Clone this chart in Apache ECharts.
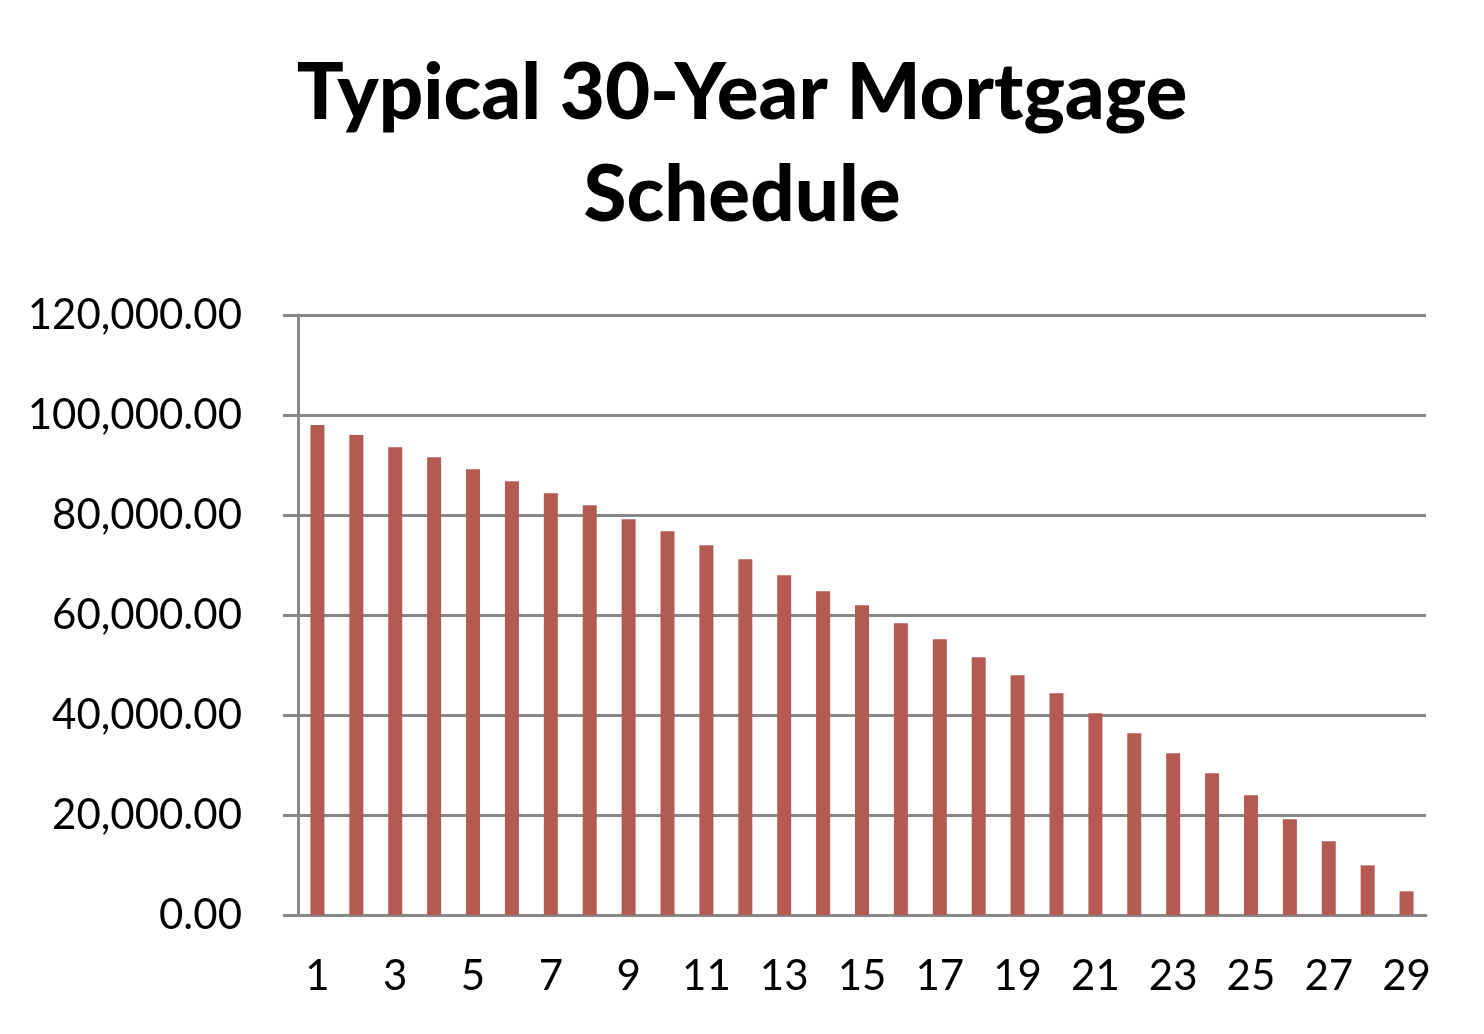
<!DOCTYPE html>
<html>
<head>
<meta charset="utf-8">
<title>Typical 30-Year Mortgage Schedule</title>
<script src="https://cdn.jsdelivr.net/npm/echarts@6/dist/echarts.min.js"></script>
<style>
  html, body { margin: 0; padding: 0; background: #fff; }
  #chart { width: 1484px; height: 1034px; }
</style>
</head>
<body>
<div id="chart"></div>
<script>
// years of the schedule
const years = [];
for (let i = 1; i <= 29; i++) years.push(String(i));

// remaining balance
const balance = [
  98000, 96000, 93530, 91530, 89130, 86730, 84330, 81930, 79130, 76730,
  73930, 71130, 67930, 64730, 61930, 58330, 55130, 51530, 47930, 44330,
  40330, 36330, 32330, 28330, 23930, 19130, 14730, 9930, 4730
];

const yMin = 0;
const yMax = 120000;
const yStep = 20000;

const axisGray = '#888888';
const font = 'Lato, "Open Sans", sans-serif';

const chart = echarts.init(document.getElementById('chart'));

chart.setOption({
  animation: false,
  title: {
    text: 'Typical 30-Year Mortgage\nSchedule',
    left: 'center',
    top: 38,
    textStyle: {
      fontFamily: font,
      fontWeight: 900,
      fontSize: 78,
      lineHeight: 102,
      color: '#000'
    }
  },
  grid: {
    left: 298,
    right: 58,
    top: 315,
    bottom: 119
  },
  xAxis: {
    type: 'category',
    data: years,
    boundaryGap: true,
    axisLine: { lineStyle: { color: axisGray, width: 3 } },
    axisTick: {
      interval: 0,
      length: 15,
      lineStyle: { color: axisGray, width: 3 }
    },
    axisLabel: {
      interval: 1,
      margin: 40,
      fontFamily: font,
      fontSize: 42,
      color: '#000'
    }
  },
  yAxis: {
    type: 'value',
    min: yMin,
    max: yMax,
    interval: yStep,
    axisLine: { show: true, lineStyle: { color: axisGray, width: 3 } },
    axisTick: { show: true, length: 15, lineStyle: { color: axisGray, width: 3 } },
    splitLine: { lineStyle: { color: axisGray, width: 3 } },
    axisLabel: {
      margin: 56,
      fontFamily: font,
      fontSize: 42,
      color: '#000',
      formatter: function (v) {
        return v.toLocaleString('en-US', {
          minimumFractionDigits: 2,
          maximumFractionDigits: 2
        });
      }
    }
  },
  series: [{
    type: 'bar',
    data: balance,
    barWidth: 14,
    itemStyle: { color: '#B45A52' }
  }]
});
</script>
</body>
</html>
